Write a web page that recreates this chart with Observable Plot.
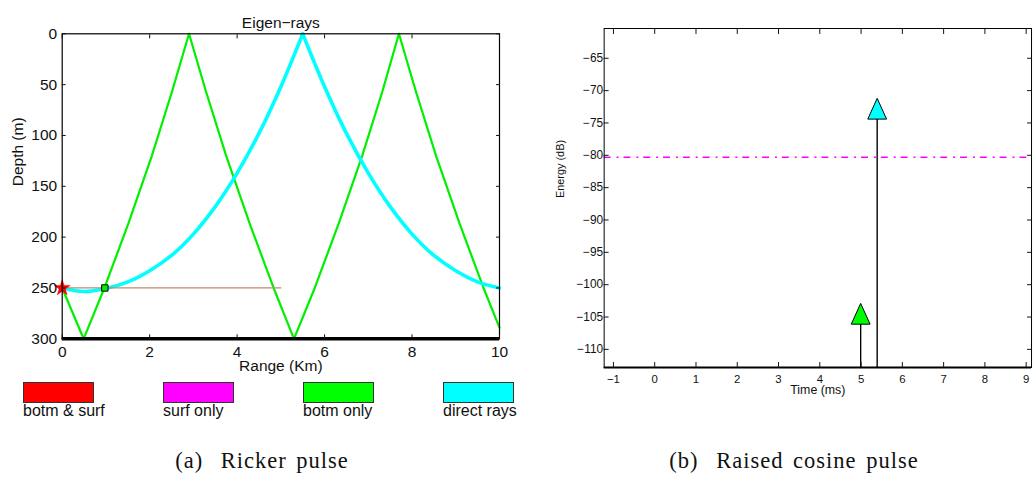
<!DOCTYPE html>
<html>
<head>
<meta charset="utf-8">
<script src="https://cdn.jsdelivr.net/npm/d3@7"></script>
<script src="https://cdn.jsdelivr.net/npm/@observablehq/plot@0.6"></script>
<style>
  html, body { margin: 0; padding: 0; background: #fff; }
  body { width: 1035px; height: 478px; overflow: hidden; position: relative; font-family: "Liberation Sans", Arial, sans-serif; }
  .abs { position: absolute; }
  .swatch { position: absolute; width: 69px; height: 19px; border: 1px solid #333; }
  .lab { position: absolute; font-size: 16px; line-height: 1; color: #111; white-space: nowrap; }
  .cap { position: absolute; font-family: "Liberation Serif", "Times New Roman", serif; font-size: 22.5px; line-height: 1; letter-spacing: 1px; word-spacing: 3px; color: #111; white-space: nowrap; transform: translateX(-50%); }
  .cap .tag { margin-right: 8px; }
</style>
</head>
<body>
<div id="panelA" class="abs" style="left:0;top:0"></div>
<div id="panelB" class="abs" style="left:540px;top:0"></div>
<div id="legend"></div>
<div class="cap" style="left:262px; top:450px"><span class="tag">(a)</span> Ricker pulse</div>
<div class="cap" style="left:794px; top:450px"><span class="tag">(b)</span> Raised cosine pulse</div>
<script>
// ---------- Panel (a): Eigen-rays ----------
const greenRange = [0, 0.49, 0.965, 1.51, 2.05, 2.51, 2.90, 3.29, 3.75, 4.29, 4.835, 5.30, 5.775, 6.32, 6.86, 7.32, 7.70, 8.09, 8.55, 9.09, 9.635, 10];
const greenDepth = [250, 300, 250, 187, 120, 57, 0, 57, 120, 187, 250, 300, 250, 187, 120, 57, 0, 57, 120, 187, 250, 289];

const cyanRange = [0, 0.5, 1.0, 1.5, 2.0, 2.5, 3.0, 3.5, 4.0, 4.5, 5.0, 5.5, 6.0, 6.5, 7.0, 7.5, 8.0, 8.5, 9.0, 9.5, 10];
const cyanDepth = [250, 253.5, 250.5, 244, 233, 218, 197, 170, 137, 98, 52, 0, 52, 98, 137, 170, 197, 218, 233, 244, 250];
const cyanApexIndex = 11;

const sourceRange = [0], sourceDepth = [250];
const receiverRange = [0.975], receiverDepth = [250];
const receiverLineRange = [0, 5], receiverLineDepth = [250, 250];
const bottomDepth = [300];

const rangeTicks = [0, 2, 4, 6, 8, 10];
const depthTicks = [0, 50, 100, 150, 200, 250, 300];

const legendLabels = ["botm & surf", "surf only", "botm only", "direct rays"];
const legendColors = ["#ff0000", "#ff00ff", "#00ff00", "#00ffff"];

// ---------- Panel (b): arrivals ----------
const arrivalTime = [4.99, 5.39];
const arrivalEnergy = [-104.5, -72.8];
const arrivalColor = ["#00ff00", "#00ffff"];
const thresholdEnergy = [-80.3];
const timeTicks = [-1, 0, 1, 2, 3, 4, 5, 6, 7, 8, 9];
const energyTicks = [-110, -105, -100, -95, -90, -85, -80, -75, -70, -65];
const timeDomain = [-1.225, 9.13];
const energyDomain = [-112.8, -60.4];

const FONT = "Liberation Sans, Arial, sans-serif";

// build tables
const greenData = greenRange.map((r, i) => ({r, d: greenDepth[i]}));
const cyanData = [];
cyanRange.forEach((r, i) => {
  if (i <= cyanApexIndex) cyanData.push({r, d: cyanDepth[i], seg: "up"});
  if (i >= cyanApexIndex) cyanData.push({r, d: cyanDepth[i], seg: "down"});
});
const arrivals = arrivalTime.map((t, i) => ({t, e: arrivalEnergy[i], c: arrivalColor[i]}));

const tri = {
  draw(ctx) {
    const h = 10.5, w = 9.5;
    ctx.moveTo(0, -h); ctx.lineTo(w, h); ctx.lineTo(-w, h); ctx.closePath();
  }
};

const plotA = Plot.plot({
  width: 520, height: 385,
  marginLeft: 61.7, marginRight: 21, marginTop: 33.3, marginBottom: 46.7,
  style: {fontFamily: FONT, fontSize: "15.5px", color: "#111", background: "transparent"},
  x: {domain: [0, 10]},
  y: {domain: [0, 300], range: [33.3, 338.3]},
  marks: [
    Plot.line(greenData, {x: "r", y: "d", stroke: "#00f000", strokeWidth: 2.2}),
    Plot.line(cyanData, {x: "r", y: "d", z: "seg", stroke: "#00ffff", strokeWidth: 3.6, curve: "catmull-rom"}),
    Plot.line(receiverLineRange.map((r, i) => ({r, d: receiverLineDepth[i]})), {x: "r", y: "d", stroke: "#c08a70", strokeWidth: 1.2}),
    Plot.ruleY(bottomDepth, {stroke: "#000", strokeWidth: 3.5}),
    Plot.dot(receiverRange.map((r, i) => ({r, d: receiverDepth[i]})), {x: "r", y: "d", symbol: "square", r: 3.6, fill: "#00f000", stroke: "#000", strokeWidth: 1}),
    Plot.dot(sourceRange.map((r, i) => ({r, d: sourceDepth[i]})), {x: "r", y: "d", symbol: "star", r: 5, fill: "#ff0000", stroke: "#ff0000", strokeWidth: 0.5}),
    Plot.frame({stroke: "#000", strokeWidth: 1.2}),
    Plot.axisX(rangeTicks, {anchor: "bottom", tickSize: -4, tickPadding: 11.4, label: null, fontSize: 15.5}),
    Plot.axisX(rangeTicks, {anchor: "top", tickSize: -4, tickFormat: () => "", label: null}),
    Plot.axisY(depthTicks, {anchor: "left", tickSize: -4, tickPadding: 9, label: null, fontSize: 15.5}),
    Plot.axisY(depthTicks, {anchor: "right", tickSize: -4, tickFormat: () => "", label: null}),
    Plot.text(["Range (Km)"], {frameAnchor: "bottom", dy: 32.4, fontSize: 15.5, fill: "#111"}),
    Plot.text(["Eigen\u2212rays"], {frameAnchor: "top", dy: -16.6, fontSize: 15.5, fill: "#111"}),
    Plot.text(["Depth (m)"], {frameAnchor: "left", dx: -44, rotate: -90, fontSize: 15.5, fill: "#111"})
  ]
});
document.getElementById("panelA").appendChild(plotA);

const plotB = Plot.plot({
  width: 500, height: 410,
  marginLeft: 64.3, marginRight: 4, marginTop: 28.3, marginBottom: 39.3,
  style: {fontFamily: FONT, fontSize: "11.5px", color: "#111", background: "transparent", overflow: "visible"},
  x: {domain: timeDomain},
  y: {domain: energyDomain},
  marks: [
    Plot.ruleY(thresholdEnergy, {stroke: "#ff00ff", strokeWidth: 1.4, strokeDasharray: "7,6,2,5"}),
    Plot.ruleX(arrivals, {x: "t", y1: energyDomain[0], y2: "e", stroke: "#000", strokeWidth: 1.4}),
    Plot.dot(arrivals, {x: "t", y: "e", symbol: tri, fill: "c", stroke: "#000", strokeWidth: 1}),
    Plot.frame({stroke: "#000", strokeWidth: 1}),
    Plot.ruleY([energyDomain[0]], {stroke: "#000", strokeWidth: 2}),
    Plot.axisX(timeTicks, {anchor: "bottom", tickSize: -5, tickPadding: 12.8, label: null, fontSize: 11.5}),
    Plot.axisX(timeTicks, {anchor: "top", tickSize: -5, tickFormat: () => "", label: null}),
    Plot.axisY(energyTicks, {anchor: "left", tickSize: -5, tickPadding: 6, label: null, fontSize: 12}),
    Plot.axisY(energyTicks, {anchor: "right", tickSize: -5, tickFormat: () => "", label: null}),
    Plot.text(["Time (ms)"], {frameAnchor: "bottom", dy: 27.2, fontSize: 12.5, fill: "#111"}),
    Plot.text(["Energy (dB)"], {frameAnchor: "left", dx: -44.3, rotate: -90, fontSize: 11, fill: "#111"})
  ]
});
document.getElementById("panelB").appendChild(plotB);

// legend
const leg = document.getElementById("legend");
const swatchLeft = [23, 163, 303, 443];
legendLabels.forEach((lab, i) => {
  const s = document.createElement("div");
  s.className = "swatch";
  s.style.left = swatchLeft[i] + "px";
  s.style.top = "382px";
  s.style.background = legendColors[i];
  leg.appendChild(s);
  const t = document.createElement("div");
  t.className = "lab";
  t.style.left = swatchLeft[i] + "px";
  t.style.top = "403px";
  t.textContent = lab;
  leg.appendChild(t);
});
</script>
</body>
</html>
